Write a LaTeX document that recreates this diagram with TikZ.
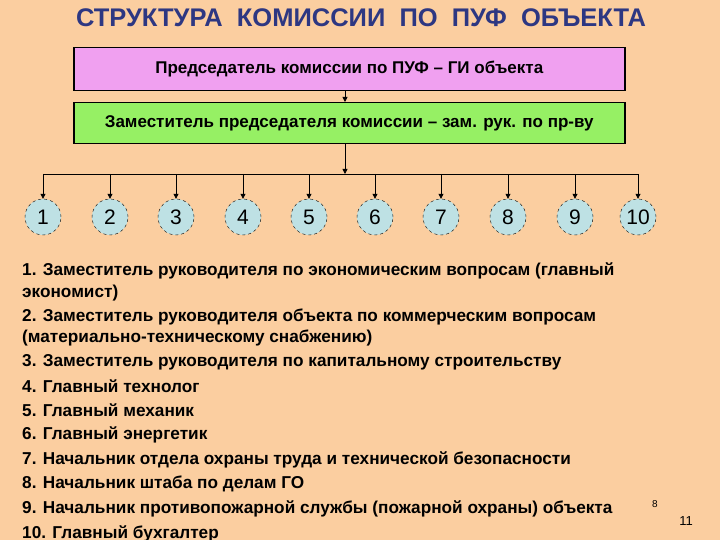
\documentclass[tikz,border=0pt]{standalone}
\usepackage{fontspec}
\setmainfont{Liberation Sans}
\usetikzlibrary{arrows.meta}
\definecolor{bg}{RGB}{251,206,160}
\definecolor{pinkb}{RGB}{240,160,240}
\definecolor{greenb}{RGB}{150,240,100}
\definecolor{circ}{RGB}{190,225,228}
\definecolor{ttl}{RGB}{45,55,130}
\begin{document}
\begin{tikzpicture}[x=1pt,y=-1pt,
 box/.style={draw,line width=1.5pt,anchor=north west,inner sep=0pt,font=\fontsize{17}{19}\selectfont\bfseries},
 num/.style={circle,draw,dashed,fill=circ,minimum size=36pt,inner sep=0pt,font=\fontsize{21}{23}\selectfont},
 arr/.style={-{Triangle[length=5pt,width=5pt]},line width=0.8pt},
 item/.style={anchor=west,font=\fontsize{17.2}{19}\selectfont\bfseries,inner sep=0pt}]
\fill[bg] (0,0) rectangle (720,540);
\useasboundingbox (0,0) rectangle (720,540);
\node[font=\fontsize{25.5}{28}\selectfont\bfseries,text=ttl] (title) at (361,18) {СТРУКТУРА\ \ КОМИССИИ\ \ ПО\ \ ПУФ\ \ ОБЪЕКТА};
\node[box,fill=pinkb,minimum width=551pt,minimum height=43pt] (chair) at (73,47) {Председатель комиссии по ПУФ -- ГИ объекта};
\node[box,fill=greenb,minimum width=551pt,minimum height=41pt] (dep) at (73,102) {Заместитель председателя комиссии -- зам. рук. по пр-ву};
\draw[arr] (chair.south -| 345,0) -- (dep.north -| 345,0);
\coordinate (j) at (345,174);
\draw[arr] (dep.south -| j) -- (j);
\foreach \i/\x in {1/43,2/110,3/176,4/243,5/309,6/375,7/441,8/508,9/575,10/638}{
  \node[num] (n\i) at (\x,217) {\i};
}
\draw[line width=0.8pt] (n1.center |- j) -- (n10.center |- j);
\foreach \i in {1,...,10}{\draw[arr] (n\i.center |- j) -- (n\i.north);}
\node[item] (t1) at (22,271) {1. Заместитель руководителя по экономическим вопросам (главный};
\node[item] (t1b) at (22,293) {экономист)};
\node[item] (t2) at (22,317) {2. Заместитель руководителя объекта по коммерческим вопросам};
\node[item] (t2b) at (22,338) {(материально-техническому снабжению)};
\node[item] (t3) at (22,362) {3. Заместитель руководителя по капитальному строительству};
\node[item] (t4) at (22,386) {4. Главный технолог};
\node[item] (t5) at (22,410) {5. Главный механик};
\node[item] (t6) at (22,435) {6. Главный энергетик};
\node[item] (t7) at (22,460) {7. Начальник отдела охраны труда и технической безопасности};
\node[item] (t8) at (22,484) {8. Начальник штаба по делам ГО};
\node[item] (t9) at (22,509) {9. Начальник противопожарной службы (пожарной охраны) объекта};
\node[item] (t10) at (22,534) {10. Главный бухгалтер};
\node[font=\fontsize{10}{11}\selectfont] (p8) at (655,504) {8};
\node[font=\fontsize{13}{14}\selectfont] (p11) at (686,521) {11};
\end{tikzpicture}
\end{document}
